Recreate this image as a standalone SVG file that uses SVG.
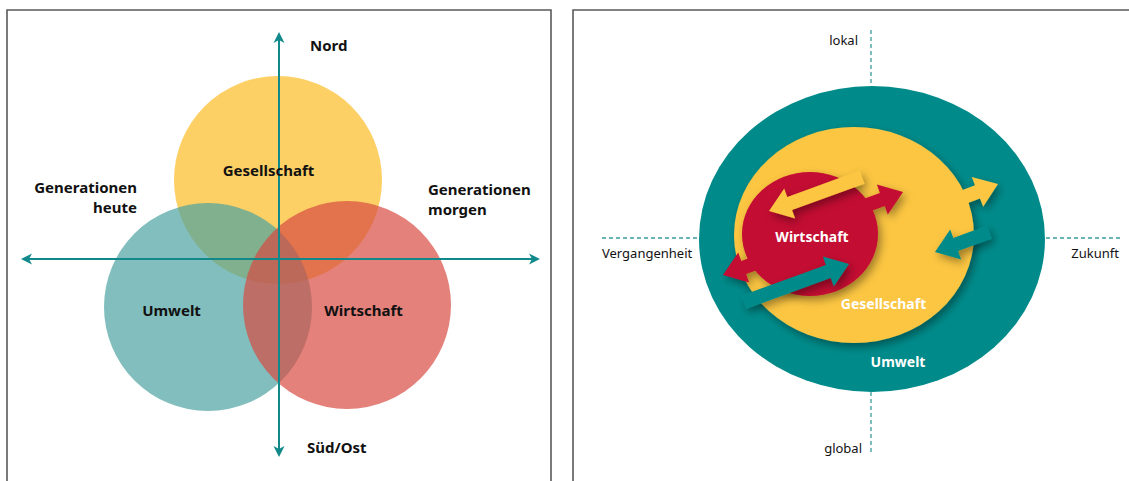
<svg xmlns="http://www.w3.org/2000/svg" width="1129" height="481" viewBox="0 0 1129 481">
<style>
.frame{fill:none;stroke:#5a5a5a;stroke-width:1.6}
.axis{stroke:#11898a;stroke-width:2;fill:none}
.dash{stroke:#3a9c9d;stroke-width:1.3;stroke-dasharray:4 3;fill:none}
.lb{font-family:"Noto Sans","Open Sans",sans-serif;font-weight:bold;font-size:15px;fill:#111}
.lr{font-family:"Noto Sans","Open Sans",sans-serif;font-size:13px;fill:#111}
.lw{font-family:"Noto Sans","Open Sans",sans-serif;font-weight:bold;font-size:14px;fill:#fff}
.vy{fill:#fcbc24;opacity:0.7}
.vt{fill:#4ca2a1;opacity:0.7}
.vr{fill:#d74b41;opacity:0.7}
.cy{fill:#fcc642}
.ct{fill:#008b8a}
.cr{fill:#c30a32}
</style>
<defs>
<marker id="ah" markerUnits="userSpaceOnUse" markerWidth="12" markerHeight="12" refX="3" refY="6" orient="auto-start-reverse" viewBox="0 0 12 12">
<path d="M0,0.5 L11,6 L0,11.5 L3,6 Z" fill="#11898a"/>
</marker>
<filter id="sh" x="-40%" y="-40%" width="180%" height="180%">
<feDropShadow dx="3" dy="4" stdDeviation="4.5" flood-color="#000" flood-opacity="0.38"/>
</filter>
</defs>

<!-- frames -->
<g id="frames">
<path class="frame" d="M7,481 V10 H551 V481"/>
<path class="frame" d="M573,481 V10 H1129"/>
</g>

<!-- LEFT PANEL -->
<g id="left-gesellschaft"><circle class="vy" cx="278" cy="180" r="104"/></g>
<g id="left-umwelt"><circle class="vt" cx="208" cy="307" r="104"/></g>
<g id="left-wirtschaft"><circle class="vr" cx="347" cy="305" r="104"/></g>

<g id="connectors">
<line class="axis" x1="279" y1="40" x2="279" y2="449" marker-start="url(#ah)" marker-end="url(#ah)"/>
<line class="axis" x1="29" y1="259" x2="532" y2="259" marker-start="url(#ah)" marker-end="url(#ah)"/>
<line class="dash" x1="871" y1="30" x2="871" y2="86"/>
<line class="dash" x1="871" y1="392" x2="871" y2="455"/>
<line class="dash" x1="602" y1="238" x2="698" y2="238"/>
<line class="dash" x1="1046" y1="238" x2="1122" y2="238"/>
</g>

<g id="left-labels">
<text class="lb" x="310" y="51">Nord</text>
<text class="lb" x="307" y="453">Süd/Ost</text>
<text class="lb" x="137" y="193" text-anchor="end">Generationen</text>
<text class="lb" x="137" y="213" text-anchor="end">heute</text>
<text class="lb" x="428" y="195">Generationen</text>
<text class="lb" x="428" y="215">morgen</text>
<text class="lb" x="268.5" y="176" text-anchor="middle">Gesellschaft</text>
<text class="lb" x="171.5" y="316" text-anchor="middle">Umwelt</text>
<text class="lb" x="363.5" y="316" text-anchor="middle">Wirtschaft</text>
</g>

<!-- RIGHT PANEL -->
<g id="right-umwelt"><ellipse class="ct" cx="872" cy="239" rx="173" ry="153"/></g>
<g id="right-gesellschaft" filter="url(#sh)">
<ellipse class="cy" cx="854" cy="235" rx="120" ry="108"/>
<path class="cy" d="M0,0 L-22,-16 L-22,-7 L-70,-7 L-70,7 L-22,7 L-22,16 Z" transform="translate(998,184) rotate(-21)"/>
</g>
<g id="arrow-umwelt-right" filter="url(#sh)">
<path class="ct" d="M0,0 L-22,-16 L-22,-7 L-58,-7 L-58,7 L-22,7 L-22,16 Z" transform="translate(935,252) rotate(160)"/>
</g>
<g id="right-wirtschaft" filter="url(#sh)">
<ellipse class="cr" cx="810" cy="234" rx="68" ry="62"/>
<path class="cr" d="M0,0 L-22,-16 L-22,-7 L-80,-7 L-80,7 L-22,7 L-22,16 Z" transform="translate(903,192) rotate(-20)"/>
<path class="cr" d="M0,0 L-22,-16 L-22,-7 L-70,-7 L-70,7 L-22,7 L-22,16 Z" transform="translate(723,275) rotate(160)"/>
</g>
<g id="arrow-gesellschaft-in" filter="url(#sh)">
<path class="cy" d="M0,0 L-22,-16 L-22,-7 L-99,-7 L-99,7 L-22,7 L-22,16 Z" transform="translate(769,211) rotate(160)"/>
</g>
<g id="arrow-umwelt-in" filter="url(#sh)">
<path class="ct" d="M0,0 L-22,-16 L-22,-7 L-112,-7 L-112,7 L-22,7 L-22,16 Z" transform="translate(849,264) rotate(-20)"/>
</g>

<g id="right-labels">
<text class="lr" x="858" y="45" text-anchor="end">lokal</text>
<text class="lr" x="862" y="453" text-anchor="end">global</text>
<text class="lr" x="602" y="258">Vergangenheit</text>
<text class="lr" x="1119" y="258" text-anchor="end">Zukunft</text>
<text class="lw" x="812" y="242" text-anchor="middle">Wirtschaft</text>
<text class="lw" x="883.5" y="309" text-anchor="middle">Gesellschaft</text>
<text class="lw" x="898" y="367" text-anchor="middle">Umwelt</text>
</g>
</svg>
